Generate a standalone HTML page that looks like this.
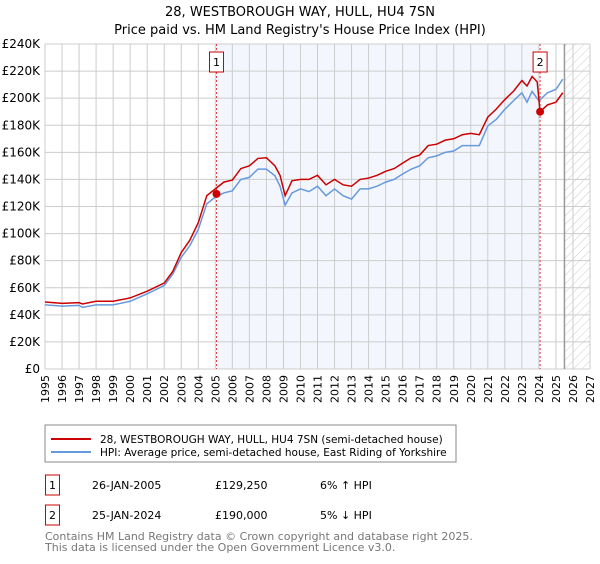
<!DOCTYPE html>
<html><head><meta charset="utf-8"><style>
body{margin:0;background:#fff;font-family:"DejaVu Sans","Liberation Sans",sans-serif;}
svg text{font-family:"DejaVu Sans","Liberation Sans",sans-serif;}
</style></head><body>
<svg id="c" width="600" height="560" xmlns="http://www.w3.org/2000/svg">
<defs><pattern id="hatch" width="6" height="6" patternUnits="userSpaceOnUse" patternTransform="rotate(45)"><line x1="0" y1="0" x2="0" y2="6" stroke="#ccc" stroke-width="1"/></pattern></defs>
<text x="300" y="16" text-anchor="middle" font-size="13">28, WESTBOROUGH WAY, HULL, HU4 7SN</text>
<text x="300" y="34" text-anchor="middle" font-size="13">Price paid vs. HM Land Registry's House Price Index (HPI)</text>
<g id="plot"></g>
<rect x="45" y="425" width="411" height="37" fill="#fff" stroke="#888"/>
<line x1="51" y1="439" x2="91" y2="439" stroke="#cc0000" stroke-width="2"/>
<text x="100" y="443" font-size="10.5">28, WESTBOROUGH WAY, HULL, HU4 7SN (semi-detached house)</text>
<line x1="51" y1="452" x2="91" y2="452" stroke="#6699dd" stroke-width="2"/>
<text x="100" y="456" font-size="10.5">HPI: Average price, semi-detached house, East Riding of Yorkshire</text>
<rect x="45.5" y="475" width="14" height="20" fill="#fff" stroke="#cc0000"/>
<text x="52.5" y="489" text-anchor="middle" font-size="11">1</text>
<text x="92" y="489" font-size="11">26-JAN-2005</text>
<text x="215" y="489" font-size="11">£129,250</text>
<text x="320" y="489" font-size="11">6% ↑ HPI</text>
<rect x="45.5" y="505" width="14" height="20" fill="#fff" stroke="#cc0000"/>
<text x="52.5" y="519" text-anchor="middle" font-size="11">2</text>
<text x="92" y="519" font-size="11">25-JAN-2024</text>
<text x="215" y="519" font-size="11">£190,000</text>
<text x="320" y="519" font-size="11">5% ↓ HPI</text>
<text x="45" y="540" font-size="11" fill="#777">Contains HM Land Registry data © Crown copyright and database right 2025.</text>
<text x="45" y="551" font-size="11" fill="#777">This data is licensed under the Open Government Licence v3.0.</text>
</svg>
<script>
const yearTicks=[1995,1996,1997,1998,1999,2000,2001,2002,2003,2004,2005,2006,2007,2008,2009,2010,2011,2012,2013,2014,2015,2016,2017,2018,2019,2020,2021,2022,2023,2024,2025,2026,2027];
const valueTicks=[0,20,40,60,80,100,120,140,160,180,200,220,240];
const hpiYears=[1995,1996,1997,1997.2,1998,1999,2000,2001,2002,2002.5,2003,2003.5,2004,2004.5,2005,2005.5,2006,2006.5,2007,2007.5,2008,2008.5,2008.8,2009.1,2009.5,2010,2010.5,2011,2011.5,2012,2012.5,2013,2013.5,2014,2014.5,2015,2015.5,2016,2016.5,2017,2017.5,2018,2018.5,2019,2019.5,2020,2020.5,2021,2021.5,2022,2022.5,2023,2023.3,2023.6,2024,2024.5,2025,2025.4];
const hpiValues=[47.4,46.4,47,45.5,47.4,47.4,50,55.5,61.6,70,82.5,91,103,122,127,130,131.6,140,141.5,147.6,147.6,142.7,135,121,130,133,131,135,128,133,128,125.5,133,133,135,138,140,144,147.6,150,156,157.4,160,161,165,165,165,179.5,184.4,191.8,198,204,197,205,198,204,206.5,214];
const priceYears=[1995,1996,1997,1997.2,1998,1999,2000,2001,2002,2002.5,2003,2003.5,2004,2004.5,2005,2005.5,2006,2006.5,2007,2007.5,2008,2008.5,2008.8,2009.1,2009.5,2010,2010.5,2011,2011.5,2012,2012.5,2013,2013.5,2014,2014.5,2015,2015.5,2016,2016.5,2017,2017.5,2018,2018.5,2019,2019.5,2020,2020.5,2021,2021.5,2022,2022.5,2023,2023.3,2023.6,2023.9,2024.07,2024.5,2025,2025.4];
const priceValues=[49.5,48.5,49,48,50,50,52.5,57.5,63.5,72,86,95,108,128,133,138,139.5,148,150,155.5,156,150,143,128,139,140,140,143,136,140,136,135,140,141,143,146,148,152,156,158,165,166,169,170,173,174,173,186,192,199,205,213,209,216,212,190,195,197,204];
const saleYears=[2005.07,2024.07];
const saleValues=[129.25,190];
const saleLabels=["1","2"];

const NS="http://www.w3.org/2000/svg";
const X0=45,X1=590,Y0=369,Y1=44;
const xs=y=>X0+(y-1995)*(X1-X0)/32;
const ys=v=>Y0-v*(Y0-Y1)/240;
const g=document.getElementById('plot');
function mk(t,a){const e=document.createElementNS(NS,t);for(const k in a)e.setAttribute(k,a[k]);g.appendChild(e);return e;}
let r=mk('rect',{x:xs(saleYears[0]),y:Y1,width:xs(saleYears[1])-xs(saleYears[0]),height:Y0-Y1,fill:'#eef3fc',opacity:0.7});


let h=mk('rect',{x:xs(2025.5),y:Y1,width:X1-xs(2025.5),height:Y0-Y1,fill:'url(#hatch)'});


yearTicks.forEach(y=>{
 const l=mk('line',{x1:xs(y),x2:xs(y),y1:Y1,y2:Y0,stroke:'#ccc','stroke-width':1});
 
 
 const t=mk('text',{x:0,y:0,'font-size':11,'text-anchor':'end',transform:`translate(${xs(y)+4},${Y0+6}) rotate(-90)`});
 t.textContent=y;
 
 
});
valueTicks.forEach(v=>{
 const l=mk('line',{x1:X0,x2:X1,y1:ys(v),y2:ys(v),stroke:'#ccc','stroke-width':1});
 
 
 const t=mk('text',{x:X0-5,y:ys(v)+4,'font-size':12,'text-anchor':'end'});
 t.textContent=v===0?'£0':'£'+v+'K';
 
 
});
let nl=mk('line',{x1:xs(2025.5),x2:xs(2025.5),y1:Y1,y2:Y0,stroke:'#999','stroke-width':1.5});


saleYears.forEach((y,i)=>{
 const l=mk('line',{x1:xs(y),x2:xs(y),y1:Y1,y2:Y0,stroke:'#dd4444','stroke-width':1,'stroke-dasharray':'2,2'});
 
 
 const b=mk('rect',{x:xs(y)-7,y:52,width:14,height:20,fill:'#fff',stroke:'#cc0000'});
 
 
 const t=mk('text',{x:xs(y),y:66,'font-size':11,'text-anchor':'middle'});
 t.textContent=saleLabels[i];
 
 
});
const hp=mk('polyline',{points:hpiYears.map((y,i)=>xs(y)+','+ys(hpiValues[i])).join(' '),fill:'none',stroke:'#6699dd','stroke-width':1.5});


const pp=mk('polyline',{points:priceYears.map((y,i)=>xs(y)+','+ys(priceValues[i])).join(' '),fill:'none',stroke:'#cc0000','stroke-width':1.5});


saleYears.forEach((y,i)=>{
 const c=mk('circle',{cx:xs(y),cy:ys(saleValues[i]),r:4,fill:'#cc0000'});
 
 
});
</script>
</body></html>
